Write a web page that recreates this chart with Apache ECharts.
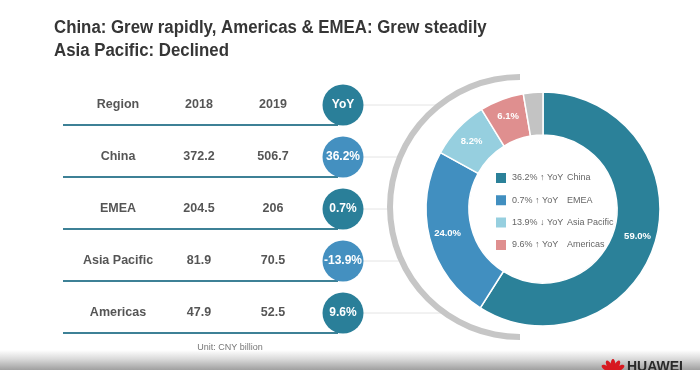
<!DOCTYPE html>
<html>
<head>
<meta charset="utf-8">
<script src="https://cdn.jsdelivr.net/npm/echarts@6/dist/echarts.min.js"></script>
<style>html,body{margin:0;padding:0;background:#fff;}#c{width:700px;height:370px;}</style>
</head>
<body>
<div id="c"></div>
<script>
// ---- data ----
var headers = ['Region', '2018', '2019', 'YoY'];
var regions = ['China', 'EMEA', 'Asia Pacific', 'Americas'];
var rev2018 = [372.2, 204.5, 81.9, 47.9];
var rev2019 = [506.7, 206, 70.5, 52.5];
var yoy = [36.2, 0.7, -13.9, 9.6];
var share = [59.0, 24.0, 8.2, 6.1];
var otherShare = 2.7;
var unitText = 'Unit: CNY billion';
var titleText = 'China: Grew rapidly, Americas & EMEA: Grew steadily\nAsia Pacific: Declined';

// ---- styles ----
var FONT = "'Liberation Sans',Arial,sans-serif";
var sliceColors = ['#2b8199', '#418fc0', '#96cfdf', '#df8f8f'];
var otherColor = '#c3c3c3';
var circleColors = ['#2a7f99', '#4490c0'];
var lineColor = '#3d8196';
var colLabelShift = [0, 6, 5];

var chart = echarts.init(document.getElementById('c'), null, {renderer: 'canvas'});

var rows = [headers.slice(0, 3)].concat(regions.map(function (r, i) {
  return [r, String(rev2018[i]), String(rev2019[i])];
}));
var yoyLabels = ['YoY'].concat(yoy.map(function (v) { return v.toFixed(1) + '%'; }));

var textData = [];
rows.forEach(function (row, ri) {
  row.forEach(function (cell, ci) {
    textData.push({value: [ci, ri], label: {formatter: cell, offset: [colLabelShift[ci], 0]}});
  });
});
var circleData = yoyLabels.map(function (t, ri) {
  return {value: [3, ri], label: {formatter: t}, itemStyle: {color: circleColors[ri % 2], opacity: 1}};
});

var pieData = regions.map(function (r, i) {
  return {name: r, value: share[i], itemStyle: {color: sliceColors[i]}};
});
pieData.push({name: 'Other', value: otherShare, itemStyle: {color: otherColor}, label: {show: false}});

// decorations
var arcCx = 520, arcCy = 207, arcR = 130;
var graphics = [];
// title (slightly condensed like the original narrow face)
graphics.push({type: 'text', z: 10, x: 54, y: 17, scaleX: 0.935,
  style: {text: titleText, fill: '#363636', font: 'bold 18px ' + FONT, lineHeight: 23,
    align: 'left', verticalAlign: 'top'}});
// bottom shaded strip
graphics.push({type: 'rect', z: 0, shape: {x: 0, y: 350, width: 700, height: 20},
  style: {fill: new echarts.graphic.LinearGradient(0, 0, 0, 1, [
    {offset: 0, color: 'rgba(255,255,255,1)'}, {offset: 0.45, color: '#dadada'}, {offset: 1, color: '#a0a0a0'}])}});
// table lines & connector lines
var rowTop = 79, rowH = 52;
for (var r = 0; r < rows.length; r++) {
  var cy = rowTop + rowH * (r + 0.5);
  graphics.push({type: 'line', z: 1, shape: {x1: 63, y1: cy + 20, x2: 338, y2: cy + 20},
    style: {stroke: lineColor, lineWidth: 2}});
  var dy = cy - arcCy;
  var xEnd = arcCx - Math.sqrt(arcR * arcR - dy * dy) - 2;
  graphics.push({type: 'line', z: 1, shape: {x1: 360, y1: cy, x2: xEnd, y2: cy},
    style: {stroke: '#e4e4e4', lineWidth: 1}});
}
// unit text
graphics.push({type: 'text', z: 5, x: 230, y: 348, style: {text: unitText, fill: '#777',
  font: '9px ' + FONT, align: 'center', verticalAlign: 'middle'}});
// HUAWEI logo (cropped at bottom)
var petals = [-60, -30, 0, 30, 60];
petals.forEach(function (a) {
  graphics.push({type: 'ellipse', z: 6, x: 613, y: 372, rotation: -a * Math.PI / 180,
    shape: {cx: 0, cy: -7, rx: 2.4, ry: 6}, style: {fill: '#d71920'}});
});
graphics.push({type: 'text', z: 6, x: 627, y: 360, style: {text: 'HUAWEI', fill: '#2a2a2a',
  font: 'bold 14px ' + FONT, align: 'left', verticalAlign: 'top'}});

var option = {
  backgroundColor: '#ffffff',
  animation: false,
  grid: {left: 80.5, width: 300, top: rowTop, height: rowH * rows.length},
  xAxis: {type: 'category', data: headers, show: false, boundaryGap: true},
  yAxis: {type: 'category', data: ['Header'].concat(regions), inverse: true, show: false, boundaryGap: true},
  legend: {
    data: regions, orient: 'vertical', left: 494, top: 171, padding: 0, z: 20,
    itemWidth: 12, itemHeight: 12, itemGap: 8.3, icon: 'rect',
    selectedMode: false,
    formatter: function (name) {
      var i = regions.indexOf(name);
      var v = yoy[i];
      var t = Math.abs(v).toFixed(1) + '% ' + (v >= 0 ? '\u2191' : '\u2193') + ' YoY';
      return '{a|' + t + '}{b|' + name + '}';
    },
    textStyle: {
      fontFamily: FONT, fontSize: 9, color: '#666',
      rich: {a: {width: 55, align: 'left', fontFamily: FONT, fontSize: 9, color: '#666'},
             b: {fontFamily: FONT, fontSize: 9, color: '#666'}}
    }
  },
  series: [
    {
      type: 'scatter', name: 'cells', symbolSize: 1, z: 5,
      itemStyle: {color: 'rgba(0,0,0,0)'},
      label: {show: true, position: 'inside', fontFamily: FONT, fontSize: 12.5, fontWeight: 'bold', color: '#2a2a2a'},
      data: textData, silent: true
    },
    {
      type: 'scatter', name: 'yoy', symbol: 'circle', symbolSize: 41, z: 6,
      itemStyle: {opacity: 1},
      label: {show: true, position: 'inside', fontFamily: FONT, fontSize: 12, fontWeight: 'bold', color: '#fff'},
      data: circleData, silent: true
    },
    {
      type: 'pie', name: 'arc', center: [arcCx, arcCy], radius: [arcR - 3, arcR + 3],
      startAngle: 90, clockwise: false, silent: true, label: {show: false}, labelLine: {show: false},
      legendHoverLink: false,
      data: [{name: 'arcL', value: 1, itemStyle: {color: '#c6c6c6'}},
             {name: 'arcR', value: 1, itemStyle: {color: 'rgba(0,0,0,0)'}}]
    },
    {
      type: 'pie', name: 'share', center: [543, 209], radius: [74, 117],
      startAngle: 90, clockwise: true, silent: true,
      itemStyle: {borderColor: '#ffffff', borderWidth: 1.5},
      label: {show: true, position: 'inside', fontFamily: FONT, fontSize: 9.5, fontWeight: 'bold', color: '#fff',
        formatter: function (p) { return p.value.toFixed(1) + '%'; }},
      labelLine: {show: false},
      data: pieData
    }
  ],
  graphic: graphics
};
chart.setOption(option);
</script>
</body>
</html>
